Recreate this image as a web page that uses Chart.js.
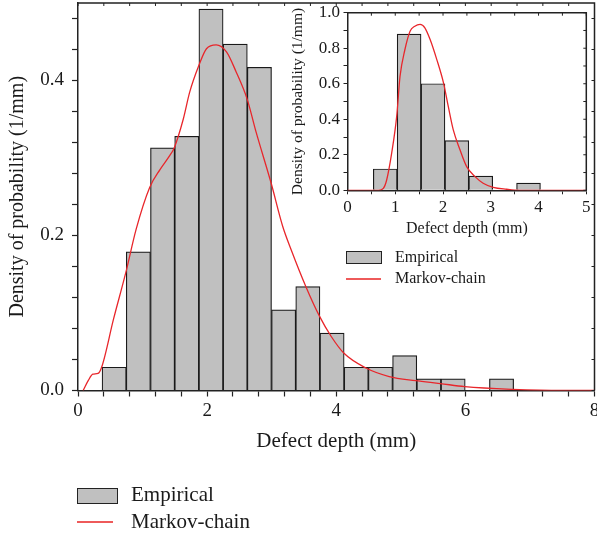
<!DOCTYPE html>
<html>
<head>
<meta charset="utf-8">
<script src="https://cdn.jsdelivr.net/npm/chart.js@4.4.1/dist/chart.umd.min.js"></script>
<style>
  body { margin: 0; background: #fff; }
  #wrap { position: relative; width: 597px; height: 537px; font-family: 'Liberation Serif', serif; color: #1a1a1a; }
  #main { position: absolute; left: 0; top: 0; }
  #inset { position: absolute; left: 280px; top: 0; }
  .box { position: absolute; background: #c0c0c0; border: 1.5px solid #222; box-sizing: border-box; }
  .line { position: absolute; background: #ee5a5a; height: 2px; }
  .lbl { position: absolute; white-space: nowrap; }
</style>
</head>
<body>
<div id="wrap">
  <canvas id="main" width="597" height="537"></canvas>
  <canvas id="inset" width="317" height="245"></canvas>

  <div class="box" style="left:346px;top:251px;width:36px;height:13px"></div>
  <div class="lbl" style="left:395px;top:249px;font-size:16px;line-height:16px">Empirical</div>
  <div class="line" style="left:346px;top:278px;width:35px"></div>
  <div class="lbl" style="left:395px;top:270px;font-size:16px;line-height:16px">Markov-chain</div>

  <div class="box" style="left:77px;top:488px;width:41px;height:16px"></div>
  <div class="lbl" style="left:131px;top:484px;font-size:21px;line-height:21px">Empirical</div>
  <div class="line" style="left:77px;top:521px;width:36px"></div>
  <div class="lbl" style="left:131px;top:511px;font-size:21px;line-height:21px">Markov-chain</div>
</div>

<script>
// main histogram: bin centres (mm) and densities (1/mm)
const binCenters = [0.56, 0.935, 1.31, 1.685, 2.06, 2.435, 2.81, 3.185, 3.56, 3.935, 4.31, 4.685, 5.06, 5.435, 5.81, 6.185, 6.56];
const empirical = [0.030, 0.179, 0.313, 0.328, 0.492, 0.447, 0.417, 0.104, 0.134, 0.074, 0.030, 0.030, 0.045, 0.015, 0.015, 0, 0.015];

// main Markov-chain density curve
const curveX = [0.08, 0.16, 0.23, 0.31, 0.37, 0.55, 0.74, 0.90, 1.11, 1.27, 1.42, 1.49, 1.63, 1.73, 1.87, 1.99, 2.14, 2.30, 2.45, 2.62, 2.76, 2.99, 3.17, 3.30, 3.53, 3.74, 3.92, 4.12, 4.46, 4.82, 5.23, 5.61, 5.99, 6.73, 7.5, 8.0];
const curveY = [0, 0.013, 0.021, 0.022, 0.031, 0.092, 0.152, 0.208, 0.262, 0.285, 0.303, 0.313, 0.350, 0.385, 0.419, 0.441, 0.446, 0.437, 0.411, 0.376, 0.333, 0.268, 0.212, 0.182, 0.134, 0.096, 0.070, 0.048, 0.029, 0.018, 0.0127, 0.009, 0.005, 0.0015, 0, 0];

// inset histogram
const insetCenters = [0.79, 1.29, 1.79, 2.29, 2.79, 3.29, 3.79];
const insetEmpirical = [0.12, 0.88, 0.60, 0.28, 0.08, 0, 0.04];

// inset Markov-chain curve
const insetCurveX = [0, 0.65, 0.75, 0.82, 0.925, 1.03, 1.10, 1.20, 1.31, 1.41, 1.52, 1.62, 1.73, 1.87, 2.01, 2.11, 2.215, 2.355, 2.495, 2.67, 2.84, 3.05, 3.33, 3.6, 5.0];
const insetCurveY = [0, 0, 0.011, 0.058, 0.209, 0.416, 0.642, 0.79, 0.896, 0.924, 0.934, 0.915, 0.849, 0.736, 0.605, 0.472, 0.34, 0.228, 0.133, 0.077, 0.04, 0.017, 0.006, 0, 0];

Chart.defaults.font.family = "'Liberation Serif', serif";
Chart.defaults.color = '#1a1a1a';

const AXIS = '#222';
const RED = '#e8262b';

const toPoints = (xs, ys) => xs.map((x, i) => ({ x: x, y: ys[i] }));

const isMultiple = (v, m) => Math.abs(v / m - Math.round(v / m)) < 1e-6;

// fixed axis size, and no extra room for edge labels
const fixSize = (prop, size) => s => {
    s[prop] = size;
    s.paddingTop = 0;
    s.paddingBottom = 0;
    s.paddingLeft = 0;
    s.paddingRight = 0;
};

// closes the box on top and right, with short inward ticks
const framePlugin = {
    id: 'frame',
    afterDraw(chart) {
        const { ctx, chartArea: a, scales } = chart;
        ctx.save();
        ctx.strokeStyle = AXIS;
        ctx.lineWidth = 1.5;
        ctx.beginPath();
        ctx.moveTo(a.left, a.top);
        ctx.lineTo(a.right, a.top);
        ctx.lineTo(a.right, a.bottom);
        ctx.stroke();
        ctx.lineWidth = 1;
        ctx.beginPath();
        scales.x.ticks.forEach(t => {
            const px = scales.x.getPixelForValue(t.value);
            ctx.moveTo(px, a.top);
            ctx.lineTo(px, a.top + 3);
        });
        scales.y.ticks.forEach(t => {
            const py = scales.y.getPixelForValue(t.value);
            ctx.moveTo(a.right, py);
            ctx.lineTo(a.right - 3, py);
        });
        ctx.stroke();
        ctx.restore();
    }
};

new Chart(document.getElementById('main'), {
    data: {
        datasets: [
            {
                type: 'line',
                label: 'Markov-chain',
                data: toPoints(curveX, curveY),
                borderColor: RED,
                borderWidth: 1.3,
                pointRadius: 0,
                cubicInterpolationMode: 'monotone',
                order: 0
            },
            {
                type: 'bar',
                label: 'Empirical',
                data: toPoints(binCenters, empirical),
                backgroundColor: '#c0c0c0',
                borderColor: '#1a1a1a',
                borderWidth: 1.2,
                barPercentage: 1,
                categoryPercentage: 1,
                order: 1
            }
        ]
    },
    options: {
        responsive: false,
        animation: false,
        layout: { padding: { top: 3, right: 2.5, left: 0, bottom: 0 } },
        plugins: { legend: { display: false }, tooltip: { enabled: false } },
        scales: {
            x: {
                type: 'linear',
                min: 0,
                max: 8,
                offset: false,
                afterFit: fixSize('height', 146.5),
                ticks: {
                    stepSize: 0.4,
                    autoSkip: false,
                    maxRotation: 0,
                    padding: 3,
                    font: { size: 19 },
                    callback: v => isMultiple(v, 2) ? String(Math.round(v)) : ''
                },
                grid: { drawOnChartArea: false, offset: false, tickLength: 6, tickColor: AXIS, tickWidth: 1.2 },
                border: { color: AXIS, width: 1.5 },
                title: { display: true, text: 'Defect depth (mm)', font: { size: 21 }, padding: { top: 0, bottom: 83 } }
            },
            y: {
                min: 0,
                max: 0.5,
                afterFit: fixSize('width', 78),
                ticks: {
                    stepSize: 0.04,
                    includeBounds: false,
                    autoSkip: false,
                    padding: 8,
                    font: { size: 19 },
                    callback: v => isMultiple(v, 0.2) ? v.toFixed(1) : ''
                },
                grid: { drawOnChartArea: false, tickLength: 6, tickColor: AXIS, tickWidth: 1.2 },
                border: { color: AXIS, width: 1.5 },
                title: { display: true, text: 'Density of probability (1/mm)', font: { size: 20 }, padding: { top: 6, bottom: 0 } }
            }
        }
    },
    plugins: [framePlugin]
});

new Chart(document.getElementById('inset'), {
    data: {
        datasets: [
            {
                type: 'line',
                label: 'Markov-chain',
                data: toPoints(insetCurveX, insetCurveY),
                borderColor: RED,
                borderWidth: 1.3,
                pointRadius: 0,
                cubicInterpolationMode: 'monotone',
                order: 0
            },
            {
                type: 'bar',
                label: 'Empirical',
                data: toPoints(insetCenters, insetEmpirical),
                backgroundColor: '#c0c0c0',
                borderColor: '#1a1a1a',
                borderWidth: 1.2,
                barPercentage: 1,
                categoryPercentage: 1,
                order: 1
            }
        ]
    },
    options: {
        responsive: false,
        animation: false,
        layout: { padding: { top: 12.7, right: 10.7, left: 0, bottom: 0 } },
        plugins: { legend: { display: false }, tooltip: { enabled: false } },
        scales: {
            x: {
                type: 'linear',
                min: 0,
                max: 5,
                offset: false,
                afterFit: fixSize('height', 54.7),
                ticks: {
                    stepSize: 0.5,
                    autoSkip: false,
                    maxRotation: 0,
                    padding: 3,
                    font: { size: 17 },
                    callback: v => isMultiple(v, 1) ? String(Math.round(v)) : ''
                },
                grid: { drawOnChartArea: false, offset: false, tickLength: 4, tickColor: AXIS, tickWidth: 1 },
                border: { color: AXIS, width: 1.5 },
                title: { display: true, text: 'Defect depth (mm)', font: { size: 16 }, padding: { top: 0, bottom: 6.4 } }
            },
            y: {
                min: 0,
                max: 1,
                afterFit: fixSize('width', 67.5),
                ticks: {
                    stepSize: 0.1,
                    autoSkip: false,
                    padding: 3.5,
                    font: { size: 17 },
                    callback: v => isMultiple(v, 0.2) ? v.toFixed(1) : ''
                },
                grid: { drawOnChartArea: false, tickLength: 4, tickColor: AXIS, tickWidth: 1 },
                border: { color: AXIS, width: 1.5 },
                title: { display: true, text: 'Density of probability (1/mm)', font: { size: 15.5 }, padding: { top: 9, bottom: 0 } }
            }
        }
    },
    plugins: [framePlugin]
});
</script>
</body>
</html>
